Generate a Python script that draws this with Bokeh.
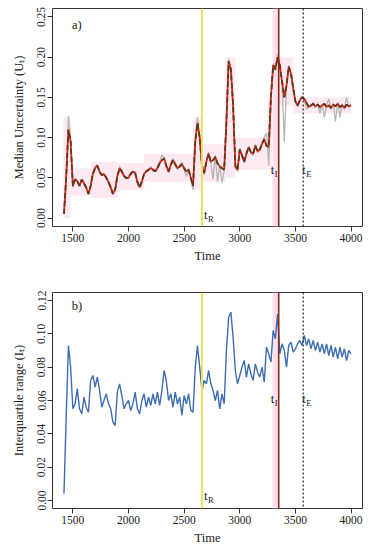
from bokeh.plotting import figure
from bokeh.layouts import column
from bokeh.models import Span, BoxAnnotation, Label, FixedTicker, NumeralTickFormatter
from bokeh.embed import file_html
from bokeh.resources import INLINE

# ---------------- data ----------------
time = [1420, 1440, 1460, 1480, 1500, 1520, 1540, 1560, 1580, 1600,
        1620, 1640, 1660, 1680, 1700, 1720, 1740, 1760, 1780, 1800,
        1820, 1840, 1860, 1880, 1900, 1920, 1940, 1960, 1980, 2000,
        2020, 2040, 2060, 2080, 2100, 2120, 2140, 2160, 2180, 2200,
        2220, 2240, 2260, 2280, 2300, 2320, 2340, 2360, 2380, 2400,
        2420, 2440, 2460, 2480, 2500, 2520, 2540, 2560, 2580, 2600,
        2620, 2640, 2660, 2680, 2700, 2720, 2740, 2760, 2780, 2800,
        2820, 2840, 2860, 2880, 2900, 2920, 2940, 2960, 2980, 3000,
        3020, 3040, 3060, 3080, 3100, 3120, 3140, 3160, 3180, 3200,
        3220, 3240, 3260, 3280, 3300, 3320, 3340, 3360, 3380, 3400,
        3420, 3440, 3460, 3480, 3500, 3520, 3540, 3560, 3580, 3600,
        3620, 3640, 3660, 3680, 3700, 3720, 3740, 3760, 3780, 3800,
        3820, 3840, 3860, 3880, 3900, 3920, 3940, 3960, 3980, 4000]

# median uncertainty (smoothed estimate, red + dashed)
median_u = [0.005, 0.050, 0.110, 0.095, 0.040, 0.048, 0.046, 0.040, 0.048, 0.043,
            0.038, 0.030, 0.040, 0.055, 0.062, 0.065, 0.058, 0.053, 0.055, 0.050,
            0.045, 0.038, 0.030, 0.035, 0.052, 0.062, 0.058, 0.052, 0.050, 0.050,
            0.055, 0.058, 0.056, 0.045, 0.038, 0.045, 0.055, 0.058, 0.060, 0.062,
            0.060, 0.058, 0.062, 0.068, 0.072, 0.074, 0.065, 0.058, 0.066, 0.072,
            0.067, 0.062, 0.064, 0.067, 0.062, 0.058, 0.060, 0.050, 0.040, 0.095,
            0.118, 0.100, 0.065, 0.056, 0.070, 0.080, 0.070, 0.072, 0.076, 0.068,
            0.064, 0.062, 0.060, 0.120, 0.195, 0.185, 0.140, 0.065, 0.060, 0.085,
            0.078, 0.070, 0.080, 0.088, 0.082, 0.080, 0.090, 0.083, 0.085, 0.092,
            0.098, 0.090, 0.088, 0.150, 0.190, 0.185, 0.200, 0.190, 0.170, 0.150,
            0.165, 0.188, 0.180, 0.162, 0.145, 0.140, 0.146, 0.150, 0.148, 0.143,
            0.138, 0.140, 0.142, 0.139, 0.141, 0.138, 0.140, 0.142, 0.138, 0.140,
            0.137, 0.141, 0.139, 0.142, 0.138, 0.140, 0.137, 0.141, 0.139, 0.140]

# raw median uncertainty (grey)
raw_u = [0.005, 0.052, 0.127, 0.098, 0.038, 0.050, 0.044, 0.042, 0.046, 0.045,
         0.036, 0.031, 0.042, 0.057, 0.064, 0.067, 0.056, 0.055, 0.053, 0.052,
         0.043, 0.040, 0.031, 0.037, 0.054, 0.064, 0.056, 0.054, 0.048, 0.052,
         0.057, 0.056, 0.058, 0.043, 0.040, 0.047, 0.053, 0.060, 0.058, 0.064,
         0.058, 0.060, 0.064, 0.070, 0.078, 0.076, 0.063, 0.056, 0.068, 0.074,
         0.065, 0.060, 0.066, 0.069, 0.060, 0.052, 0.062, 0.048, 0.035, 0.098,
         0.125, 0.098, 0.062, 0.054, 0.072, 0.082, 0.068, 0.048, 0.078, 0.045,
         0.066, 0.044, 0.058, 0.122, 0.198, 0.183, 0.138, 0.062, 0.058, 0.087,
         0.076, 0.068, 0.082, 0.090, 0.080, 0.078, 0.092, 0.081, 0.087, 0.094,
         0.100, 0.106, 0.065, 0.148, 0.192, 0.183, 0.204, 0.188, 0.168, 0.095,
         0.163, 0.190, 0.178, 0.160, 0.143, 0.138, 0.148, 0.152, 0.146, 0.135,
         0.140, 0.138, 0.144, 0.137, 0.143, 0.130, 0.142, 0.125, 0.140, 0.148,
         0.135, 0.143, 0.120, 0.144, 0.125, 0.142, 0.135, 0.150, 0.137, 0.142]

# pink uncertainty blocks around the median estimate
band_left = [1415, 1480, 1660, 1900, 2140, 2580, 2650, 2870, 2960, 3250, 3350, 3480]
band_right = [1480, 1660, 1900, 2140, 2580, 2650, 2870, 2960, 3250, 3295, 3480, 4000]
band_low = [0.000, 0.028, 0.025, 0.035, 0.045, 0.035, 0.045, 0.050, 0.060, 0.060, 0.140, 0.130]
band_high = [0.125, 0.062, 0.070, 0.068, 0.080, 0.125, 0.092, 0.200, 0.100, 0.150, 0.200, 0.150]

# interquartile range
iqr = [0.004, 0.050, 0.093, 0.080, 0.055, 0.058, 0.067, 0.055, 0.052, 0.062,
       0.056, 0.053, 0.072, 0.075, 0.068, 0.074, 0.066, 0.056, 0.060, 0.064,
       0.058, 0.055, 0.047, 0.045, 0.065, 0.070, 0.063, 0.055, 0.058, 0.060,
       0.054, 0.058, 0.065, 0.055, 0.052, 0.060, 0.064, 0.056, 0.062, 0.057,
       0.064, 0.058, 0.065, 0.057, 0.066, 0.078, 0.072, 0.060, 0.064, 0.056,
       0.065, 0.058, 0.062, 0.051, 0.063, 0.058, 0.064, 0.054, 0.053, 0.080,
       0.093, 0.080, 0.066, 0.072, 0.070, 0.078, 0.070, 0.066, 0.060, 0.066,
       0.055, 0.064, 0.058, 0.090, 0.110, 0.113, 0.098, 0.078, 0.070, 0.075,
       0.080, 0.084, 0.074, 0.082, 0.076, 0.072, 0.082, 0.077, 0.074, 0.080,
       0.071, 0.092, 0.088, 0.083, 0.102, 0.097, 0.112, 0.088, 0.094, 0.090,
       0.080, 0.093, 0.095, 0.089, 0.091, 0.094, 0.096, 0.093, 0.099, 0.093,
       0.097, 0.091, 0.096, 0.090, 0.095, 0.089, 0.094, 0.088, 0.094, 0.087,
       0.093, 0.086, 0.092, 0.085, 0.092, 0.086, 0.091, 0.084, 0.090, 0.088]

x_ticks = [1500, 2000, 2500, 3000, 3500, 4000]
ya_ticks = [0.00, 0.05, 0.10, 0.15, 0.20, 0.25]
yb_ticks = [0.00, 0.02, 0.04, 0.06, 0.08, 0.10, 0.12]

t_R = 2660
t_I = 3350
t_E = 3570
shade_start = 3295

FONT = "Liberation Serif"


def style(p, yticks, ylabel):
    p.outline_line_color = "#333333"
    p.outline_line_width = 1
    p.xgrid.visible = False
    p.ygrid.visible = False
    p.xaxis.ticker = FixedTicker(ticks=x_ticks)
    p.yaxis.ticker = FixedTicker(ticks=yticks)
    p.yaxis.formatter = NumeralTickFormatter(format="0.00")
    for ax in (p.xaxis[0], p.yaxis[0]):
        ax.axis_line_color = None
        ax.major_tick_line_color = "#333333"
        ax.major_tick_out = 5
        ax.major_tick_in = 0
        ax.minor_tick_line_color = None
        ax.major_label_text_font = FONT
        ax.major_label_text_font_size = "11.5px"
        ax.major_label_text_color = "#222222"
        ax.axis_label_text_font = FONT
        ax.axis_label_text_font_size = "12.5px"
        ax.axis_label_text_font_style = "normal"
        ax.axis_label_text_color = "#222222"
        ax.major_label_standoff = 2
    p.xaxis.axis_label = "Time"
    p.xaxis.axis_label_standoff = 4
    p.yaxis.axis_label = ylabel
    p.yaxis.major_label_orientation = "vertical"
    p.yaxis.axis_label_standoff = 9


def events(p, ya_R, ya_IE):
    p.add_layout(BoxAnnotation(left=shade_start, right=t_I, fill_color="#fde0ee",
                               fill_alpha=1.0, line_color=None, level="underlay"))
    p.add_layout(Span(location=t_R, dimension="height", line_color="#ece25a", line_width=2))
    p.add_layout(Span(location=t_I, dimension="height", line_color="#8b2a10", line_width=1.6))
    p.add_layout(Span(location=t_E, dimension="height", line_color="#222222",
                      line_width=1.2, line_dash="2 2"))

    def lab(x, y, xo, main, sub):
        p.add_layout(Label(x=x, y=y, x_offset=xo, text=main, text_font=FONT,
                           text_font_size="12.5px", text_baseline="middle",
                           text_color="#222222"))
        p.add_layout(Label(x=x, y=y, x_offset=xo + 4, y_offset=-4, text=sub,
                           text_font=FONT, text_font_size="8.5px",
                           text_baseline="middle", text_color="#222222"))
    lab(t_R, ya_R, 2, "t", "R")
    lab(t_I, ya_IE, -8, "t", "I")
    lab(t_E, ya_IE, -1, "t", "E")


# ---------------- panel a ----------------
pa = figure(width=370, height=270, x_range=(1317, 4103), y_range=(-0.0105, 0.2605),
            output_backend="svg", toolbar_location=None,
            min_border_left=52, min_border_right=8, min_border_top=8, min_border_bottom=44)
pa.quad(left=band_left, right=band_right, bottom=band_low, top=band_high,
        fill_color="#fde4ef", fill_alpha=0.8, line_color=None)
events(pa, 0.004, 0.06)
pa.line(time, raw_u, line_color="#b5b5b5", line_width=1.3)
pa.line(time, median_u, line_color="#e0201b", line_width=1.7)
pa.line(time, median_u, line_color="#5c3a17", line_width=1.8, line_dash="5 3")
pa.add_layout(Label(x=1536, y=0.24, text="a)", text_font=FONT, text_font_size="12.5px",
                    text_align="center", text_baseline="middle", text_color="#222222"))
style(pa, ya_ticks, "Median Uncertainty (Uₜ)")

# ---------------- panel b ----------------
pb = figure(width=370, height=280, x_range=(1317, 4103), y_range=(-0.0048, 0.1248),
            output_backend="svg", toolbar_location=None,
            min_border_left=52, min_border_right=8, min_border_top=22, min_border_bottom=42)
events(pb, 0.003, 0.061)
pb.line(time, iqr, line_color="#3d6db3", line_width=1.4)
pb.add_layout(Label(x=1536, y=0.117, text="b)", text_font=FONT, text_font_size="12.5px",
                    text_align="center", text_baseline="middle", text_color="#222222"))
style(pb, yb_ticks, "Interquartile range (Iₜ)")

layout = column(pa, pb, spacing=0)
open("out.html", "w").write(file_html(layout, INLINE))
